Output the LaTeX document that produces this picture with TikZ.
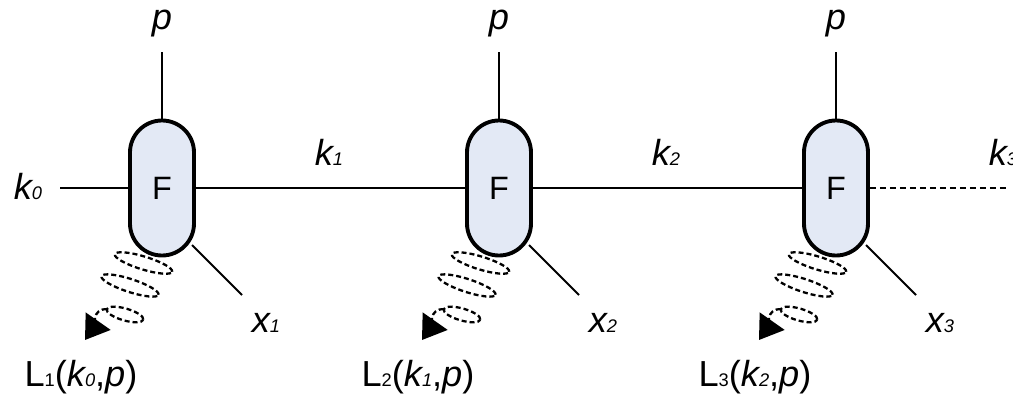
\documentclass[tikz,border=0pt]{standalone}
\usepackage{fontspec}
\setmainfont{Liberation Sans}
\usetikzlibrary{calc,arrows.meta}
\definecolor{boxblue}{HTML}{E3E9F5}
\newcommand{\sbs}[1]{{\fontsize{5.2}{6}\selectfont #1}}

\begin{document}
\begin{tikzpicture}[x=1mm, y=1mm]
  \tikzset{
    f_box/.style={draw, fill=boxblue, line width=1.1pt, rounded corners=3.2mm, minimum width=6.4mm, minimum height=13.5mm, inner sep=0pt, font=\fontsize{9.2}{11}\selectfont},
    thin_line/.style={line width=0.6pt},
    lbl/.style={inner sep=0pt, anchor=base, font=\fontsize{10.3}{12}\selectfont},
    spring/.style={line width=0.65pt, dash pattern=on 0.5mm off 0.3mm},
    spring_tip/.style={spring, -{Triangle[length=2.3mm, width=3mm]}}
  }
  \useasboundingbox (0,0) rectangle (101.3,39.8);

  % Bloques F con sus patas
  \foreach \i/\j/\xx in {1/0/16.2, 2/1/49.9, 3/2/83.6} {
    \node[f_box] (F\i) at (\xx,21) {F};
    \node[lbl] (p\i) at (\xx,36.9) {\textit{p}};
    \coordinate (ptop\i) at (\xx,34.6);
    \draw[thin_line] (ptop\i) -- (F\i.north);
    % pata x
    \coordinate (xbeg\i) at ($(F\i)+(3.0,-5.7)$);
    \coordinate (xend\i) at ($(F\i)+(8.0,-10.7)$);
    \draw[thin_line] (xbeg\i) -- (xend\i);
    \node[lbl] (x\i) at ($(F\i)+(10.4,-14.4)$) {\textit{x\sbs{\i}}};
    % muelle (tres espiras) y flecha
    \coordinate (sa\i) at ($(F\i)+(-1.85,-7.5)$);
    \coordinate (sb\i) at ($(F\i)+(-3.2,-9.75)$);
    \coordinate (sc\i) at ($(F\i)+(-3.7,-12.65)$);
    \begin{scope}[shift={(sa\i)}, rotate=-17]
      \draw[spring] (0,0) ellipse (3 and 0.65);
    \end{scope}
    \begin{scope}[shift={(sb\i)}, rotate=-18]
      \draw[spring] (0,0) ellipse (3 and 0.65);
    \end{scope}
    \begin{scope}[shift={(sc\i)}, rotate=-16]
      \draw[spring] (0,0) ellipse (1.9 and 0.6);
    \end{scope}
    \coordinate (sout\i) at ($(sc\i)+(-1.83,0.52)$);
    \coordinate (stip\i) at ($(F\i)+(-7.7,-15.2)$);
    \draw[spring_tip] (sout\i) to[out=175, in=55] (stip\i);
    \node[lbl] (L\i) at ($(F\i)+(-8.1,-19.8)$) {L\sbs{\i}(\textit{k\sbs{\j}},\textit{p})};
  }

  % Linea horizontal de momentos
  \coordinate (kbeg) at (6,21);
  \coordinate (kend) at (100.7,21);
  \draw[thin_line] (kbeg) -- (F1);
  \draw[thin_line] (F1) -- (F2);
  \draw[thin_line] (F2) -- (F3);
  \draw[thin_line, dash pattern=on 0.6mm off 0.4mm] (F3) -- (kend);

  % Etiquetas k
  \node[lbl] (k0) at (2.8,19.9) {\textit{k\sbs{0}}};
  \node[lbl] (k1) at (32.9,23.3) {\textit{k\sbs{1}}};
  \node[lbl] (k2) at (66.6,23.3) {\textit{k\sbs{2}}};
  \node[lbl] (k3) at (100.3,23.3) {\textit{k\sbs{3}}};
\end{tikzpicture}
\end{document}
